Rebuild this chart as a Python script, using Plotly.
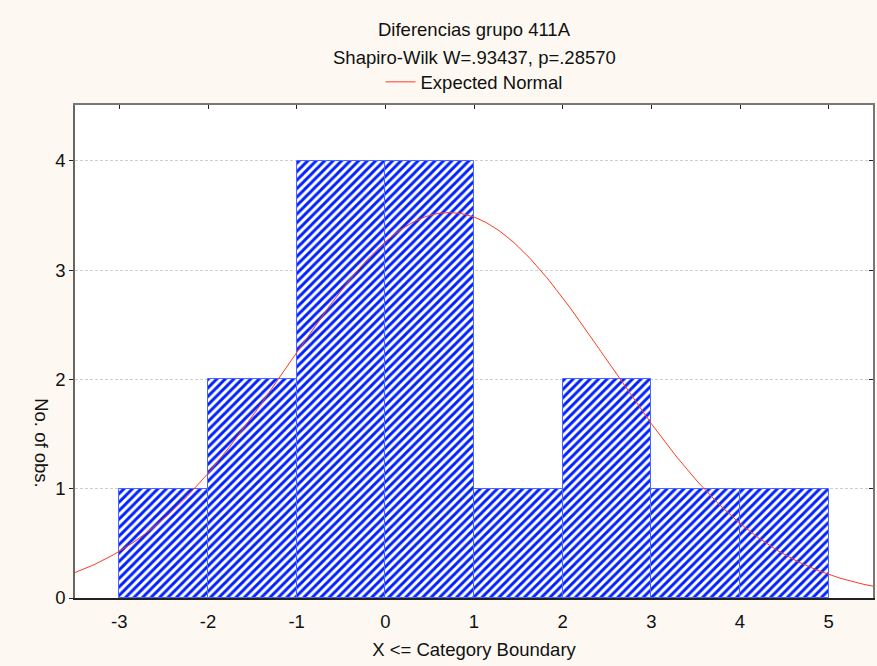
import numpy as np
import plotly.graph_objects as go

# Histogram of differences, group 411A
bin_left = [-3, -2, -1, 0, 1, 2, 3, 4]
counts = [1, 2, 4, 4, 1, 2, 1, 1]
x_ticks = [-3, -2, -1, 0, 1, 2, 3, 4, 5]
y_ticks = [0, 1, 2, 3, 4]

# Expected normal parameters (sample mean / SD, N, bin width)
mean_val = 0.72
sd_val = 1.81
n_obs = sum(counts)
bin_width = 1.0

FONT = "Liberation Sans, Arial, sans-serif"
BG = "#fdf9f2"
FS = 18.5

centers = [b + bin_width / 2 for b in bin_left]

xs = np.linspace(-3.5, 5.5, 400)
ys = n_obs * bin_width / (sd_val * np.sqrt(2 * np.pi)) * np.exp(-0.5 * ((xs - mean_val) / sd_val) ** 2)

fig = go.Figure()
fig.add_trace(go.Bar(
    x=centers, y=counts, width=bin_width,
    marker=dict(
        color="white",
        line=dict(color="#4a66ff", width=1),
        pattern=dict(shape="/", fgcolor="#0020ff", bgcolor="white", size=6,
                     solidity=0.48, fgopacity=1),
    ),
    showlegend=False, hoverinfo="skip",
))
fig.add_trace(go.Scatter(
    x=xs, y=ys, mode="lines", name="Expected Normal",
    line=dict(color="#ff3b1f", width=1),
))
# invisible trace to carry the top / right tick axes
fig.add_trace(go.Scatter(x=[-3.5], y=[0], xaxis="x2", yaxis="y2", mode="markers",
                         marker=dict(opacity=0), showlegend=False, hoverinfo="skip"))

fig.update_layout(
    width=877, height=666,
    paper_bgcolor=BG, plot_bgcolor="white",
    margin=dict(l=75, r=4, t=105, b=68),
    font=dict(family=FONT, size=FS, color="#111"),
    bargap=0,
    showlegend=True,
    legend=dict(x=0.5, xanchor="center", y=1.046, yanchor="middle", orientation="h",
                bgcolor="rgba(0,0,0,0)", font=dict(size=FS), itemwidth=30),
    xaxis=dict(
        range=[-3.5, 5.5], tickvals=x_ticks, ticktext=[str(v) for v in x_ticks],
        showgrid=False, zeroline=False,
        showline=True, linecolor="#222", linewidth=1.5,
        ticks="outside", ticklen=6, tickcolor="rgba(0,0,0,0)", tickfont=dict(size=FS),
        title=dict(text="X <= Category Boundary", font=dict(size=FS), standoff=12),
    ),
    yaxis=dict(
        range=[0, 4.51], tickvals=y_ticks, ticktext=[str(v) for v in y_ticks],
        showgrid=True, gridcolor="#cfcfcf", griddash="3px,2px", gridwidth=1,
        zeroline=False, showline=True, linecolor="#666", linewidth=1.5,
        ticks="outside", ticklen=4, tickcolor="#222", tickfont=dict(size=FS),
    ),
    xaxis2=dict(
        overlaying="x", side="top", matches="x", range=[-3.5, 5.5], tickvals=x_ticks,
        showticklabels=False, showgrid=False, zeroline=False,
        showline=True, linecolor="#777", linewidth=1.5,
        ticks="inside", ticklen=4, tickcolor="#222",
    ),
    yaxis2=dict(
        overlaying="y", side="right", matches="y", range=[0, 4.51], tickvals=y_ticks,
        showticklabels=False, showgrid=False, zeroline=False,
        showline=True, linecolor="#777", linewidth=1.5,
        ticks="inside", ticklen=4, tickcolor="#222",
    ),
    annotations=[
        dict(text="Diferencias grupo 411A", x=0.5, xref="paper", y=29, yref="paper",
             showarrow=False, font=dict(size=FS)),
        dict(text="Shapiro-Wilk W=.93437, p=.28570", x=0.5, xref="paper", y=57,
             yref="paper", showarrow=False, font=dict(size=FS)),
        dict(text="No. of obs.", textangle=90, x=-0.042, xref="paper", y=0.315, yref="paper",
             showarrow=False, font=dict(size=FS), xanchor="center", yanchor="middle"),
    ],
)

# place the two title lines in pixel terms relative to the plot area
plot_h = 666 - 105 - 68
for ann in fig.layout.annotations[:2]:
    ann.y = 1 + (105 - ann.y) / plot_h
    ann.yanchor = "middle"

fig.write_html("out.html")
